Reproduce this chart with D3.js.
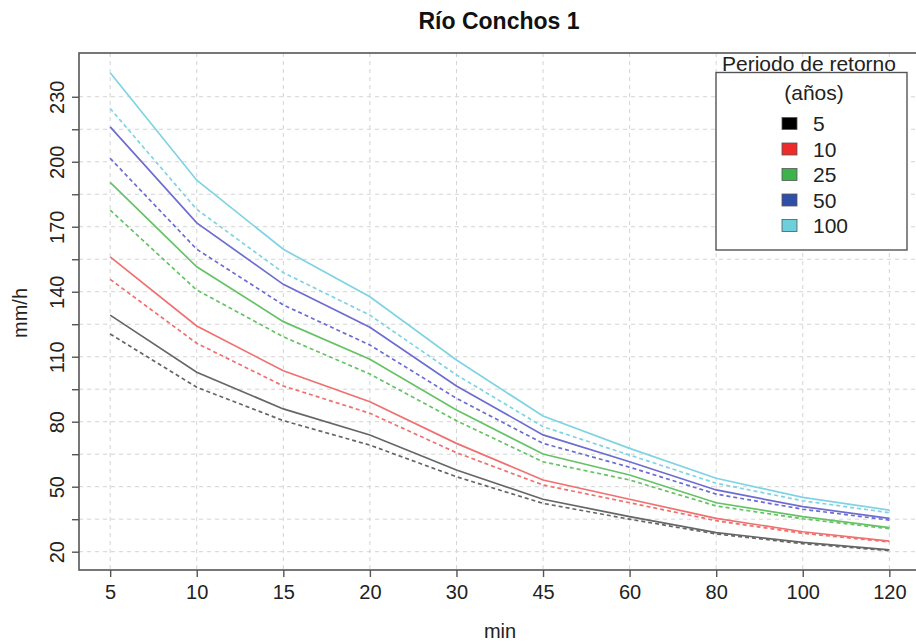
<!DOCTYPE html>
<html>
<head>
<meta charset="utf-8">
<script src="https://cdn.jsdelivr.net/npm/d3@7/dist/d3.min.js"></script>
<style>
  html, body { margin: 0; padding: 0; background: #fff; }
  svg { display: block; font-family: "Liberation Sans", Arial, Helvetica, sans-serif; }
</style>
</head>
<body>
<svg id="chart" width="916" height="643"></svg>
<script>
// ---- data ----
const categories = ["5", "10", "15", "20", "30", "45", "60", "80", "100", "120"];
const periods = ["5", "10", "25", "50", "100"];
// solid lines
const solid5   = [129.2, 102.8, 85.9, 73.9, 57.7, 44.2, 36.2, 28.8, 24.3, 20.8];
const solid10  = [156.1, 124.2, 103.5, 89.2, 70.0, 53.1, 44.2, 35.4, 29.2, 24.9];
const solid25  = [190.5, 151.5, 126.2, 108.8, 85.4, 65.1, 55.4, 42.6, 36.2, 31.1];
const solid50  = [216.1, 171.8, 143.4, 123.6, 96.5, 73.9, 61.5, 48.5, 40.8, 35.4];
const solid100 = [241.1, 191.5, 159.6, 137.7, 108.5, 82.6, 67.7, 53.9, 45.1, 39.2];
// dashed lines
const dashed5   = [120.5, 95.9, 80.5, 69.2, 54.6, 42.3, 35.0, 28.2, 23.7, 20.5];
const dashed10  = [145.7, 116.2, 96.5, 83.9, 65.7, 50.8, 42.6, 34.3, 28.5, 24.5];
const dashed25  = [177.7, 140.8, 119.2, 102.0, 80.5, 61.5, 53.1, 41.1, 35.2, 30.6];
const dashed50  = [201.6, 159.6, 133.9, 115.4, 90.8, 70.0, 59.0, 46.6, 39.6, 34.6];
const dashed100 = [224.6, 178.0, 148.8, 129.2, 101.6, 77.7, 64.6, 51.6, 43.5, 38.0];
const yTicks = [20, 35, 50, 65, 80, 95, 110, 125, 140, 155, 170, 185, 200, 215, 230];
const yLabels = [20, 50, 80, 110, 140, 170, 200, 230];

const solidSeries = [solid5, solid10, solid25, solid50, solid100];
const dashedSeries = [dashed5, dashed10, dashed25, dashed50, dashed100];
const lineColors = ["#666666", "#f07070", "#66c266", "#6c6cd2", "#7fd3e3"];
const legendColors = ["#000000", "#ee2b2b", "#3bb34a", "#2f4ea8", "#6dcfdb"];

// ---- layout ----
const svg = d3.select("#chart");
const L = 79, R = 920.5, T = 53, B = 570;

const x = d3.scaleLinear().domain([-0.36, categories.length - 1 + 0.36]).range([L, R]);
const y = d3.scaleLinear().domain([11.55, 250.2]).range([B, T]);

// grid
const grid = svg.append("g");
grid.selectAll("line.h").data(yTicks).enter().append("line")
  .attr("x1", L).attr("x2", R)
  .attr("y1", d => y(d)).attr("y2", d => y(d))
  .attr("stroke", "#d4d4d4").attr("stroke-width", 1).attr("stroke-dasharray", "4,4");
grid.selectAll("line.v").data(categories).enter().append("line")
  .attr("x1", (d, i) => x(i)).attr("x2", (d, i) => x(i))
  .attr("y1", T).attr("y2", B)
  .attr("stroke", "#d4d4d4").attr("stroke-width", 1).attr("stroke-dasharray", "4,4");

// lines
const line = d3.line().x((d, i) => x(i)).y(d => y(d));
const lines = svg.append("g").attr("fill", "none");
dashedSeries.forEach((s, k) => {
  lines.append("path").datum(s).attr("d", line)
    .attr("stroke", lineColors[k]).attr("stroke-width", 1.7)
    .attr("stroke-dasharray", "4,3");
});
solidSeries.forEach((s, k) => {
  lines.append("path").datum(s).attr("d", line)
    .attr("stroke", lineColors[k]).attr("stroke-width", 1.7);
});

// box
svg.append("rect").attr("x", L).attr("y", T).attr("width", R - L).attr("height", B - T)
  .attr("fill", "none").attr("stroke", "#555").attr("stroke-width", 1.6);

// x axis
const xAxis = d3.axisBottom(x)
  .tickValues(d3.range(categories.length))
  .tickFormat(i => categories[i])
  .tickSize(7).tickPadding(8);
const gx = svg.append("g").attr("transform", `translate(0,${B})`).call(xAxis);
gx.select(".domain").remove();
gx.selectAll(".tick line").attr("stroke", "#555").attr("stroke-width", 1.4);
gx.selectAll(".tick text").attr("font-size", 20).attr("fill", "#222")
  .attr("font-family", "Liberation Sans, Arial, sans-serif");

// y axis
const yAxis = d3.axisLeft(y).tickValues(yTicks).tickSize(7)
  .tickFormat(d => yLabels.includes(d) ? d : "");
const gy = svg.append("g").attr("transform", `translate(${L},0)`).call(yAxis);
gy.select(".domain").remove();
gy.selectAll(".tick line").attr("stroke", "#555").attr("stroke-width", 1.4);
gy.selectAll(".tick text").attr("font-size", 20).attr("fill", "#222")
  .attr("font-family", "Liberation Sans, Arial, sans-serif")
  .attr("text-anchor", "middle").attr("dy", null)
  .attr("x", null)
  .attr("transform", "translate(-20,0) rotate(-90)")
  .attr("dominant-baseline", "middle");

// titles
svg.append("text").attr("x", 499).attr("y", 29).attr("text-anchor", "middle")
  .attr("font-size", 23).attr("font-weight", "bold").attr("fill", "#111").text("Río Conchos 1");
svg.append("text").attr("x", 500).attr("y", 638).attr("text-anchor", "middle")
  .attr("font-size", 20).attr("fill", "#222").text("min");
svg.append("text").attr("transform", "translate(27,313) rotate(-90)").attr("text-anchor", "middle")
  .attr("font-size", 20).attr("fill", "#222").text("mm/h");

// legend
const lg = svg.append("g");
lg.append("rect").attr("x", 716).attr("y", 72.5).attr("width", 191).attr("height", 177.5)
  .attr("fill", "#fff").attr("stroke", "#555").attr("stroke-width", 1.4);
lg.append("text").attr("x", 809).attr("y", 71).attr("text-anchor", "middle")
  .attr("font-size", 21).attr("fill", "#222").text("Periodo de retorno");
lg.append("text").attr("x", 814).attr("y", 100).attr("text-anchor", "middle")
  .attr("font-size", 21).attr("fill", "#222").text("(años)");
periods.forEach((p, k) => {
  const cy = 123.5 + k * 25.5;
  lg.append("rect").attr("x", 782).attr("y", cy - 6).attr("width", 15).attr("height", 12)
    .attr("fill", legendColors[k]).attr("stroke", "#555").attr("stroke-width", 0.8);
  lg.append("text").attr("x", 813).attr("y", cy + 7.5).attr("font-size", 21)
    .attr("fill", "#222").text(p);
});
</script>
</body>
</html>
